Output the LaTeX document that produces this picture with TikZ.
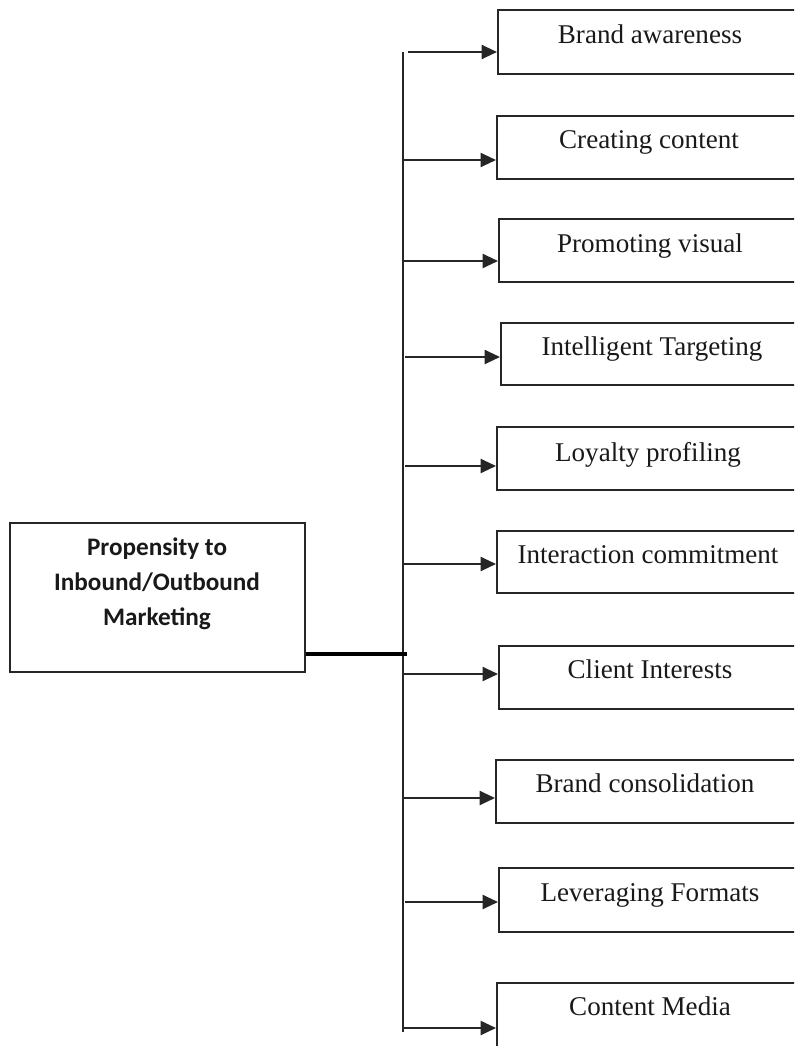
\documentclass[tikz,border=0pt]{standalone}
\usepackage{fontspec}
\setmainfont{Liberation Serif}
\newfontfamily\calibrish{Carlito}
\usetikzlibrary{arrows.meta,fit}

\begin{document}
\begin{tikzpicture}[x=0.75pt,y=-0.75pt,
  rbox/.style={draw=black!85,line width=1.5pt,inner sep=0pt,fit={#1}},
  lbl/.style={anchor=base,inner sep=0pt,font=\fontsize{20.3}{24}\selectfont,text=black!90},
  srctext/.style={anchor=base,inner sep=0pt,font=\calibrish\bfseries\fontsize{18.9}{22}\selectfont,text=black!90},
  arr/.style={draw=black!85,line width=1.5pt,-{Triangle[length=11.5pt,width=10.5pt]}},
  trunk/.style={draw=black!85,line width=1.6pt},
  link/.style={draw=black,line width=2.4pt}]

\path[use as bounding box] (0,0) rectangle (794,1046);
\clip (0,0) rectangle (794,1046);

% source box
\node[rbox={(10,523) (305,672)}] (src) {};
\node[srctext] (p1) at (157,555) {Propensity to};
\node[srctext] (p2) at (157,590) {Inbound/Outbound};
\node[srctext] (p3) at (157,625) {Marketing};

% target boxes (running past the right edge)
\node[rbox={(498,10) (812,74)}]   (b1) {};
\node[rbox={(497,116) (812,179)}] (b2) {};
\node[rbox={(499,219) (812,282)}] (b3) {};
\node[rbox={(501,323) (812,385)}] (b4) {};
\node[rbox={(497,427) (812,490)}] (b5) {};
\node[rbox={(497,531) (812,593)}] (b6) {};
\node[rbox={(499,646) (812,709)}] (b7) {};
\node[rbox={(496,760) (812,823)}] (b8) {};
\node[rbox={(499,868) (812,932)}] (b9) {};
\node[rbox={(497,983) (812,1070)}] (b10) {};

\node[lbl] (t1)  at (650,43)   {Brand awareness};
\node[lbl] (t2)  at (649,148)  {Creating content};
\node[lbl] (t3)  at (650,252)  {Promoting visual};
\node[lbl] (t4)  at (652,355)  {Intelligent Targeting};
\node[lbl] (t5)  at (648,461)  {Loyalty profiling};
\node[lbl] (t6)  at (648,563)  {Interaction commitment};
\node[lbl] (t7)  at (650,678)  {Client Interests};
\node[lbl] (t8)  at (645,792)  {Brand consolidation};
\node[lbl] (t9)  at (650,901)  {Leveraging Formats};
\node[lbl] (t10) at (650,1015) {Content Media};

% trunk and junction
\coordinate (top) at (403,52);
\coordinate (bot) at (403,1032);
\draw[trunk] (top) -- (bot);
\coordinate (j) at (407,654);
\draw[link] (j -| src.east) -- (j);

% branch arrows
\coordinate (s1)  at (408,52);
\coordinate (s2)  at (403,160);
\coordinate (s3)  at (403,261);
\coordinate (s4)  at (405,357);
\coordinate (s5)  at (405,466);
\coordinate (s6)  at (403,564);
\coordinate (s7)  at (403,674);
\coordinate (s8)  at (403,798);
\coordinate (s9)  at (405,902);
\coordinate (s10) at (403,1028);
\foreach \i in {1,...,10}
  \draw[arr] (s\i) -- (s\i -| b\i.west);

\end{tikzpicture}
\end{document}
